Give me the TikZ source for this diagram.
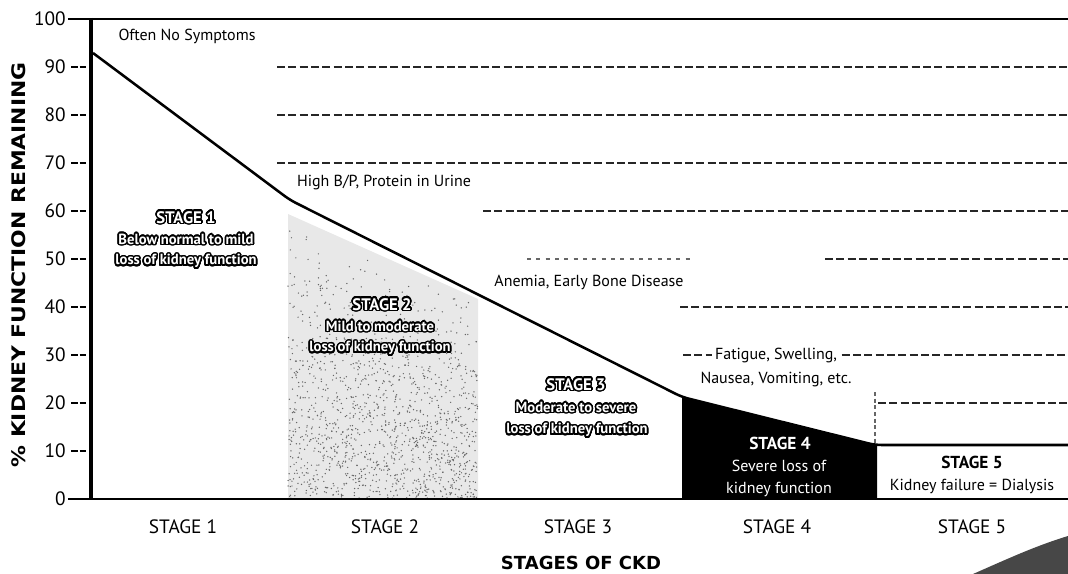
\documentclass[tikz,border=0pt]{standalone}
\usepackage{fontspec}
\setmainfont{PT Sans}
\newfontfamily\widefont{DejaVu Sans}
\usepackage{contour}
\contourlength{1.1pt}
\contournumber{32}
\usepackage{graphicx}
\begin{document}
\begin{tikzpicture}[x=0.75pt,y=-0.75pt,
  gridline/.style={line width=1.1pt, dash pattern=on 6pt off 2.5pt, black!85},
  tickline/.style={line width=1.1pt, dash pattern=on 5pt off 1.5pt},
  ticklab/.style={anchor=east, font=\fontsize{14.5}{15}\selectfont, inner sep=0pt},
  note/.style={font=\fontsize{12}{13}\selectfont, inner sep=1pt},
  xlab/.style={font=\fontsize{14.5}{15}\selectfont, inner sep=0pt},
  olhead/.style={font=\bfseries\fontsize{12.5}{13}\selectfont, text=white, inner sep=0pt},
  olline/.style={font=\bfseries\fontsize{11}{12}\selectfont, text=white, inner sep=0pt},
  darkhead/.style={font=\bfseries\fontsize{13}{14}\selectfont, inner sep=0pt},
  darkline/.style={font=\fontsize{12}{13}\selectfont, inner sep=0pt},
  speck/.style={fill=black!60}
]
\useasboundingbox (0,0) rectangle (1068,574);

% stage 2 stipple area
\fill[black!9] (288,214) -- (478,299) -- (478,499) -- (288,499) -- cycle;
\pgfmathsetseed{11}
\foreach \i in {1,...,1400}{
  \pgfmathsetmacro\xx{288+190*rnd}
  \pgfmathsetmacro\tp{214+(\xx-288)*0.447}
  \pgfmathsetmacro\yy{\tp+(499-\tp)*sqrt(rnd)}
  \fill[speck] (\xx,\yy) circle[radius=0.55pt];
}
% stage 4 black area
\fill[black] (682,397) -- (875,445) -- (877,445) -- (877,499) -- (682,499) -- cycle;

% grid lines
\draw[gridline] (277,67) -- (1068,67);
\draw[gridline] (277,115) -- (1068,115);
\draw[gridline] (277,163) -- (1068,163);
\draw[gridline] (483,211) -- (1068,211);
\draw[line width=1pt, black!60, dash pattern=on 3pt off 4pt] (527,259) -- (690,259);
\draw[gridline] (825,259) -- (1068,259);
\draw[gridline] (680,307) -- (1068,307);
\draw[gridline] (683,355) -- (1068,355);
\draw[gridline] (878,403) -- (1068,403);
\draw[line width=0.8pt, black!60, dash pattern=on 3pt off 2pt] (875,392) -- (875,445);

% frame and axes
\draw[line width=1.6pt] (90,19) -- (1068,19);
\draw[line width=2.4pt] (91,18) -- (91,500);
\draw[line width=2pt] (68,499) -- (1068,499);
\draw[line width=1.6pt] (68,19) -- (91,19);

% ticks and labels
\foreach \v in {10,20,...,90}{
  \draw[tickline] (71,{499-4.8*\v}) -- (88,{499-4.8*\v});
}
\foreach \v in {0,10,...,100}{
  \node[ticklab] (t\v) at (66,{499-4.8*\v}) {\v};
}

% curve
\draw[line width=1.9pt, line join=round, rounded corners=5pt] (93,53) -- (290,200) -- (682,397) -- (875,445) -- (1068,445);

% annotations
\node[note] (n1) at (187,36) {Often No Symptoms};
\node[note] (n2) at (384,183) {High B/P, Protein in Urine};
\node[note] (n3) at (589,282) {Anemia, Early Bone Disease};
\node[note, fill=white, inner sep=2pt] (n4) at (776,355) {Fatigue, Swelling,};
\node[note] (n5) at (776,380) {Nausea, Vomiting, etc.};

% stage labels inside chart
\node[olhead] (s1h) at (186,218) {\contour{black}{STAGE 1}};
\node[olline] (s1a) at (186,240) {\contour{black}{Below normal to mild}};
\node[olline] (s1b) at (186,262) {\contour{black}{loss of kidney function}};

\node[olhead] (s2h) at (382,305) {\contour{black}{STAGE 2}};
\node[olline] (s2a) at (380,327) {\contour{black}{Mild to moderate}};
\node[olline] (s2b) at (380,349) {\contour{black}{loss of kidney function}};

\node[olhead] (s3h) at (576,385) {\contour{black}{STAGE 3}};
\node[olline] (s3a) at (576,408) {\contour{black}{Moderate to severe}};
\node[olline] (s3b) at (577,431) {\contour{black}{loss of kidney function}};

\node[darkhead, text=white] (s4h) at (780,443) {STAGE 4};
\node[darkline, text=white] (s4a) at (779,466) {Severe loss of};
\node[darkline, text=white] (s4b) at (779,489) {kidney function};

\node[darkhead] (s5h) at (972,462) {STAGE 5};
\node[darkline] (s5a) at (972,486) {Kidney failure = Dialysis};

% x labels
\node[xlab] (x1) at (183,527) {STAGE 1};
\node[xlab] (x2) at (385,527) {STAGE 2};
\node[xlab] (x3) at (578,527) {STAGE 3};
\node[xlab] (x4) at (777,527) {STAGE 4};
\node[xlab] (x5) at (972,527) {STAGE 5};
\node[font=\widefont\bfseries\fontsize{13.5}{14}\selectfont, inner sep=0pt] (xt) at (581,563) {STAGES OF CKD};

% y label
\node[rotate=90, inner sep=0pt, font=\widefont\bfseries\fontsize{14}{15}\selectfont] (yt) at (19,265) {\scalebox{1.17}[1]{\% KIDNEY FUNCTION REMAINING}};

% corner swoosh
\fill[black!72] (973,574) .. controls (1005,560) and (1035,546) .. (1068,536) -- (1068,574) -- cycle;
\end{tikzpicture}
\end{document}
